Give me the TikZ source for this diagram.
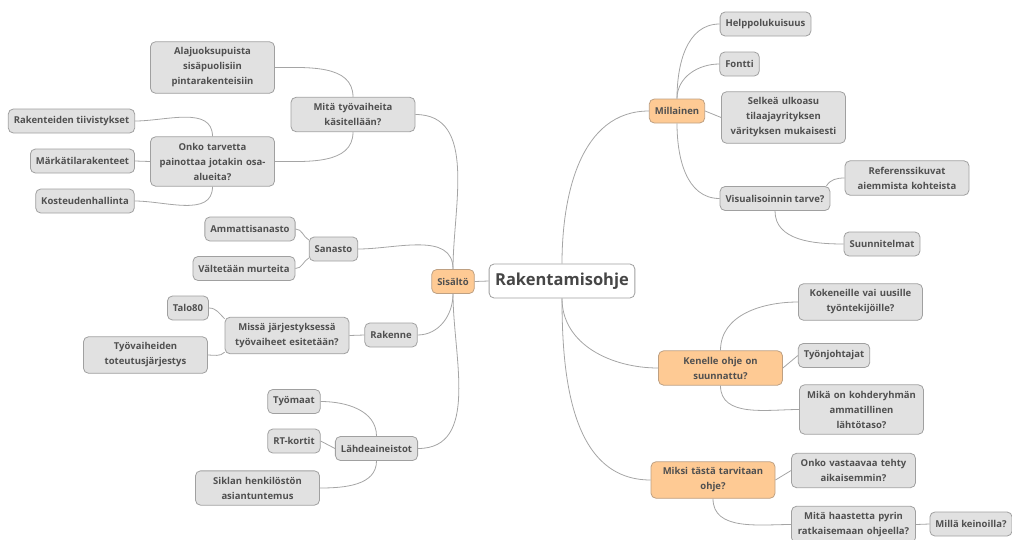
\documentclass[tikz,border=0pt]{standalone}
\usepackage{fontspec}
\setmainfont{Open Sans}
\usepackage{tikz}
\usetikzlibrary{positioning,calc}
\tikzset{
  every picture/.append style={line width=0.8pt},
  every node/.append style={font=\fontsize{9.5}{15}\selectfont\bfseries},
}

\begin{document}
\begin{tikzpicture}[
    x=1pt, y=-1pt,
    topic/.style={
        rectangle,
        draw=boxline,
        fill=boxgray,
        text=textgray,
        rounded corners=5pt,
        minimum height=24pt,
        align=center,
        inner xsep=5.5pt,
        inner ysep=6pt
    },
    wide/.style={topic, text width=113pt},
    main/.style={topic, fill=mainorange, draw=mainline},
    central/.style={
        topic,
        fill=white,
        minimum height=34pt,
        inner xsep=6pt,
        font=\fontsize{16.5}{20}\selectfont\bfseries,
        text=titlegray
    },
    branch/.style={
        draw=linkgray,
        line width=0.8pt
    }
]
% Color definitions
\definecolor{boxgray}{RGB}{225,225,225}
\definecolor{boxline}{RGB}{160,160,160}
\definecolor{mainorange}{RGB}{254,202,148}
\definecolor{mainline}{RGB}{190,160,130}
\definecolor{textgray}{RGB}{80,80,80}
\definecolor{titlegray}{RGB}{70,70,70}
\definecolor{linkgray}{RGB}{165,165,165}

\path[use as bounding box] (0,0) rectangle (1012,539);

% Nodes
\node[central] (root) at (562,281) {Rakentamisohje};
\node[main] (sisalto) at (453,281.5) {Sisältö};

\node[wide] (tyovaiheet) at (353,114.5) {Mitä työvaiheita\\käsitellään?};
\node[wide] (alajuoksu) at (212.5,67.5) {Alajuoksupuista\\sisäpuolisiin\\pintarakenteisiin};
\node[wide] (painotus) at (212.5,161.5) {Onko tarvetta\\painottaa jotakin osa-\\alueita?};
\node[topic] (tiivistys) at (71.5,121) {Rakenteiden tiivistykset};
\node[topic] (markatila) at (82.5,161) {Märkätilarakenteet};
\node[topic] (kosteus) at (85,201) {Kosteudenhallinta};

\node[topic] (sanasto) at (333.5,249) {Sanasto};
\node[topic] (ammatti) at (250,229) {Ammattisanasto};
\node[topic] (murre) at (244,268.5) {Vältetään murteita};

\node[topic] (rakenne) at (391,335) {Rakenne};
\node[wide] (jarjestys) at (287,335.5) {Missä järjestyksessä\\työvaiheet esitetään?};
\node[topic] (talo) at (188,308) {Talo80};
\node[wide] (toteutus) at (145.5,355) {Työvaiheiden\\toteutusjärjestys};

\node[topic] (lahteet) at (376.5,448.5) {Lähdeaineistot};
\node[topic] (tyomaat) at (294,401.5) {Työmaat};
\node[topic] (rtkortit) at (294,441) {RT-kortit};
\node[wide] (sikla) at (257.5,488) {Siklan henkilöstön\\asiantuntemus};

\node[main] (millainen) at (677,111) {Millainen};
\node[topic] (helppo) at (765.5,24) {Helppolukuisuus};
\node[topic] (fontti) at (739.5,64) {Fontti};
\node[wide] (selkea) at (783.5,117.5) {Selkeä ulkoasu\\tilaajayrityksen\\värityksen mukaisesti};
\node[topic] (visual) at (775,198.5) {Visualisoinnin tarve?};
\node[wide] (referenssi) at (907,178) {Referenssikuvat\\aiemmista kohteista};
\node[topic] (suunnitelmat) at (882,244) {Suunnitelmat};

\node[main, text width=113pt] (kenelle) at (720.5,368) {Kenelle ohje on\\suunnattu?};
\node[wide] (kokeneille) at (860.5,302) {Kokeneille vai uusille\\työntekijöille?};
\node[topic] (tyonjohto) at (834,355.5) {Työnjohtajat};
\node[wide] (lahtotaso) at (861.5,409.5) {Mikä on kohderyhmän\\ammatillinen\\lähtötaso?};

\node[main, text width=113pt] (miksi) at (713,480) {Miksi tästä tarvitaan\\ohje?};
\node[wide] (vastaava) at (853.5,470.5) {Onko vastaavaa tehty\\aikaisemmin?};
\node[wide] (haaste) at (853.5,524.5) {Mitä haastetta pyrin\\ratkaisemaan ohjeella?};
\node[topic] (keinot) at (971,524) {Millä keinoilla?};

% Branches
\draw[branch] (sisalto.east) -- (root.west);
\draw[branch] (root.north) to[out=90,in=180] (millainen.west);
\draw[branch] (root.south) to[out=-90,in=180] (kenelle.west);
\draw[branch] (root.south) to[out=-90,in=180] (miksi.west);

\draw[branch] (sisalto.north) to[out=90,in=0] (tyovaiheet.east);
\draw[branch] (sisalto.north) to[out=90,in=0] (sanasto.east);
\draw[branch] (sisalto.south) to[out=-90,in=0] (rakenne.east);
\draw[branch] (sisalto.south) to[out=-90,in=0] (lahteet.east);

\draw[branch] (tyovaiheet.north) to[out=90,in=0] (alajuoksu.east);
\draw[branch] (tyovaiheet.south) to[out=-90,in=0] (painotus.east);
\draw[branch] (painotus.north) to[out=90,in=0] (tiivistys.east);
\draw[branch] (painotus.west) -- (markatila.east);
\draw[branch] (painotus.south) to[out=-90,in=0] (kosteus.east);

\draw[branch] (sanasto.160) to[out=150,in=0] (ammatti.east);
\draw[branch] (sanasto.200) to[out=210,in=0] (murre.east);

\draw[branch] (rakenne.west) -- (jarjestys.east);
\draw[branch] (jarjestys.165) to[out=135,in=0] (talo.east);
\draw[branch] (jarjestys.195) to[out=225,in=0] (toteutus.east);

\draw[branch] (lahteet.north) to[out=90,in=0] (tyomaat.east);
\draw[branch] (lahteet.west) -- (rtkortit.east);
\draw[branch] (lahteet.south) to[out=-90,in=0] (sikla.east);

\draw[branch] (millainen.north) to[out=90,in=180] (helppo.west);
\draw[branch] (millainen.north) to[out=90,in=180] (fontti.west);
\draw[branch] (millainen.east) -- (selkea.west);
\draw[branch] (millainen.south) to[out=-90,in=180] (visual.west);
\draw[branch] ([xshift=-4pt]visual.north east) to[out=60,in=180] (referenssi.west);
\draw[branch] (visual.south) to[out=-90,in=180] (suunnitelmat.west);

\draw[branch] (kenelle.north) to[out=90,in=180] (kokeneille.west);
\draw[branch] (kenelle.east) -- (tyonjohto.west);
\draw[branch] (kenelle.south) to[out=-90,in=180] (lahtotaso.west);

\draw[branch] (miksi.east) -- (vastaava.west);
\draw[branch] (miksi.south) to[out=-90,in=180] (haaste.west);
\draw[branch] (haaste.east) -- (keinot.west);

\end{tikzpicture}
\end{document}
